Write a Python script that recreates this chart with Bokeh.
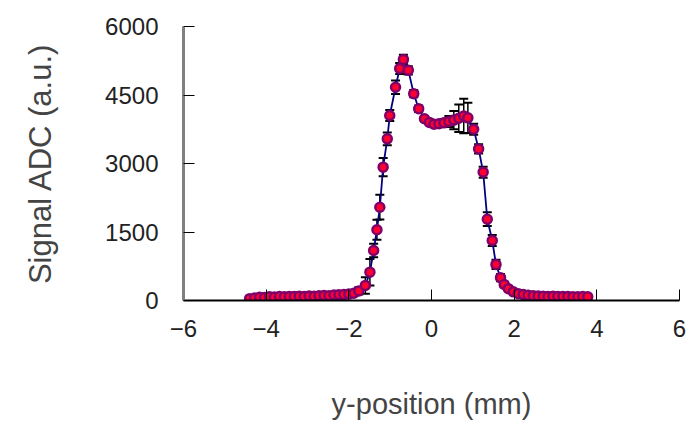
from bokeh.plotting import figure
from bokeh.models import Range1d, FixedTicker, ColumnDataSource, Whisker, TeeHead
from bokeh.embed import file_html
from bokeh.resources import INLINE

# y-position (mm) and signal (a.u.)
ypos = [-4.40, -4.28, -4.16, -4.04, -3.92, -3.80, -3.68, -3.56, -3.44, -3.32,
        -3.20, -3.08, -2.96, -2.84, -2.72, -2.60, -2.48, -2.36, -2.24, -2.12,
        -2.00, -1.88, -1.76, -1.60, -1.49, -1.40, -1.32, -1.25, -1.17, -1.07,
        -1.01, -0.87, -0.77, -0.68, -0.56, -0.43, -0.31, -0.17, -0.05, 0.06,
        0.18, 0.30, 0.42, 0.54, 0.66, 0.78, 0.88, 1.02, 1.14, 1.25,
        1.35, 1.47, 1.56, 1.67, 1.76, 1.86, 1.98, 2.10, 2.22, 2.34,
        2.46, 2.58, 2.70, 2.82, 2.94, 3.06, 3.18, 3.30, 3.42, 3.54,
        3.66, 3.78]
signal = [40, 55, 70, 65, 80, 75, 85, 80, 90, 85,
          95, 90, 100, 95, 105, 110, 105, 120, 125, 130,
          140, 160, 210, 330, 620, 1095, 1550, 2043, 2920, 3540,
          4050, 4670, 5080, 5280, 5040, 4530, 4200, 3980, 3900, 3860,
          3870, 3890, 3920, 3950, 3990, 4040, 4000, 3750, 3320, 2810,
          1780, 1314, 790, 500, 350, 260, 190, 150, 130, 115,
          105, 100, 95, 90, 95, 90, 85, 90, 85, 80,
          85, 80]
error = [30, 30, 30, 30, 30, 30, 30, 30, 30, 30,
         30, 30, 30, 30, 30, 30, 30, 30, 30, 40,
         40, 50, 80, 180, 290, 150, 220, 270, 200, 140,
         120, 150, 120, 100, 90, 80, 70, 60, 60, 60,
         70, 80, 120, 200, 300, 380, 330, 120, 100, 120,
         150, 120, 100, 80, 60, 50, 40, 30, 30, 30,
         30, 30, 30, 30, 30, 30, 30, 30, 30, 30,
         30, 30]

x_ticks = [-6, -4, -2, 0, 2, 4, 6]
y_ticks = [0, 1500, 3000, 4500, 6000]

src = ColumnDataSource(data=dict(
    x=ypos, y=signal,
    lo=[s - e for s, e in zip(signal, error)],
    hi=[s + e for s, e in zip(signal, error)],
))

p = figure(width=689, height=422, output_backend="svg", toolbar_location=None,
           x_range=Range1d(-6, 6), y_range=Range1d(0, 6000),
           min_border_left=183, min_border_right=10, min_border_top=26,
           min_border_bottom=122)
p.outline_line_color = None
p.xgrid.visible = False
p.ygrid.visible = False
p.background_fill_color = "white"
p.border_fill_color = "white"

wh = Whisker(source=src, base="x", lower="lo", upper="hi",
             line_color="black", line_width=1.5,
             upper_head=TeeHead(size=9, line_color="black", line_width=2),
             lower_head=TeeHead(size=9, line_color="black", line_width=2))
p.add_layout(wh)

p.line("x", "y", source=src, line_color="#000080", line_width=1.8)
p.scatter("x", "y", source=src, marker="circle", size=9,
          fill_color="#ff0030", line_color="#80006a", line_width=2.5)

font = "Liberation Sans"
p.xaxis.ticker = FixedTicker(ticks=x_ticks)
p.yaxis.ticker = FixedTicker(ticks=y_ticks)
for ax in (p.xaxis[0], p.yaxis[0]):
    ax.major_label_text_font = font
    ax.major_label_text_font_size = "24px"
    ax.major_label_text_color = "#222222"
    ax.axis_label_text_font = font
    ax.axis_label_text_font_style = "normal"
    ax.axis_label_text_color = "#444444"
    ax.minor_tick_line_color = None
    ax.major_tick_out = 0
    ax.major_tick_in = 11
    ax.major_tick_line_color = "black"

p.xaxis.axis_label = "y-position (mm)"
p.yaxis.axis_label = "Signal ADC (a.u.)"
p.xaxis.axis_label_text_font_size = "29px"
p.yaxis.axis_label_text_font_size = "31px"
p.xaxis.axis_line_color = "black"
p.xaxis.axis_line_width = 2
p.yaxis.axis_line_color = "#808080"
p.yaxis.axis_line_width = 3
p.xaxis.major_label_standoff = 19
p.xaxis.axis_label_standoff = 48
p.yaxis.major_label_standoff = 25
p.yaxis.axis_label_standoff = 44

open("out.html", "w").write(file_html(p, INLINE))
